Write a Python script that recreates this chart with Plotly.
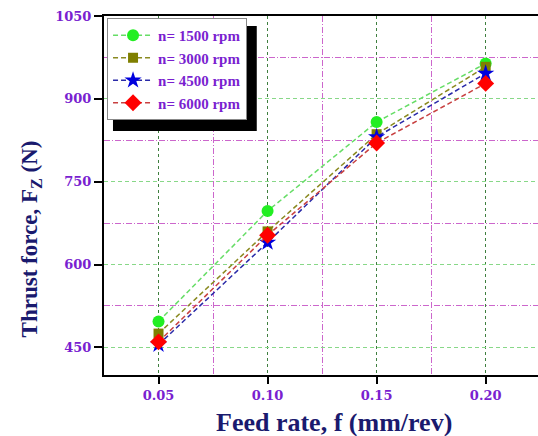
import plotly.graph_objects as go

# Feed rate (mm/rev) and measured thrust force (N) at each spindle speed
feed_rate = [0.05, 0.10, 0.15, 0.20]
force_1500 = [497, 697, 858, 964]
force_3000 = [475, 660, 836, 958]
force_4500 = [455, 640, 831, 946]
force_6000 = [460, 653, 820, 928]

series_names = ["n= 1500 rpm", "n= 3000 rpm", "n= 4500 rpm", "n= 6000 rpm"]
x_ticks = [0.05, 0.10, 0.15, 0.20]
x_tick_text = ["0.05", "0.10", "0.15", "0.20"]
y_ticks = [450, 600, 750, 900, 1050]
x_title = "Feed rate, f (mm/rev)"
y_title = "Thrust force, F<sub>Z</sub> (N)"

styles = [
    dict(line="#66dd66", marker="#22ee22", symbol="circle", size=12),
    dict(line="#8a8a20", marker="#7f7f00", symbol="square", size=10),
    dict(line="#2a2aa8", marker="#0000dd", symbol="star", size=13),
    dict(line="#c84040", marker="#ff0000", symbol="diamond", size=13),
]

fig = go.Figure()
for name, values, st in zip(series_names,
                            [force_1500, force_3000, force_4500, force_6000],
                            styles):
    fig.add_trace(go.Scatter(
        x=feed_rate, y=values, name=name, mode="lines+markers",
        line=dict(color=st["line"], width=1.5, dash="5px,3px"),
        marker=dict(color=st["marker"], symbol=st["symbol"], size=st["size"],
                    line=dict(width=0)),
    ))

tick_font = dict(family="DejaVu Serif", size=13, color="#7a1fd0", weight="bold")
title_color = "#1a1a6e"

fig.update_layout(
    width=538, height=436,
    margin=dict(l=104, r=0, t=16, b=61),
    paper_bgcolor="white", plot_bgcolor="white",
    showlegend=True,
    legend=dict(
        x=0.007, y=0.9944, xanchor="left", yanchor="top",
        bgcolor="white", bordercolor="#888888", borderwidth=1,
        font=dict(family="Liberation Serif", size=15, color="#7a1fd0", weight="bold"),
        itemwidth=40,
    ),
    xaxis=dict(
        range=[0.025, 0.224], tickvals=x_ticks, ticktext=x_tick_text,
        tickfont=tick_font, ticks="outside", ticklen=7, tickwidth=2,
        tickcolor="black",
        showline=True, linecolor="black", linewidth=2, mirror=True,
        showgrid=True, gridcolor="#3f7f3f", griddash="3px,3px", gridwidth=1,
        minor=dict(tickvals=[0.075, 0.125, 0.175], showgrid=True,
                   gridcolor="#cc66cc", griddash="6px,2px,1px,2px", gridwidth=1),
        zeroline=False,
    ),
    yaxis=dict(
        range=[400, 1050], tickvals=y_ticks,
        tickfont=tick_font, ticks="outside", ticklen=8, tickwidth=2,
        tickcolor="black",
        showline=True, linecolor="black", linewidth=2, mirror=False,
        showgrid=True, gridcolor="#88d888", griddash="4px,3px", gridwidth=1,
        minor=dict(tickvals=[525, 675, 825, 975], showgrid=True,
                   gridcolor="#cc66cc", griddash="6px,2px,1px,2px", gridwidth=1),
        zeroline=False,
    ),
)

# Axis titles
fig.add_annotation(text=x_title, xref="paper", yref="paper", x=0.53, y=-0.131,
                   xanchor="center", yanchor="middle", showarrow=False,
                   font=dict(family="Liberation Serif", size=26,
                             color=title_color, weight="bold"))
fig.add_annotation(text=y_title, xref="paper", yref="paper", x=-0.168, y=0.378,
                   xanchor="center", yanchor="middle", showarrow=False,
                   textangle=-90,
                   font=dict(family="Liberation Serif", size=23,
                             color=title_color, weight="bold"))

# Drop shadow behind the legend box
fig.add_shape(type="rect", xref="paper", yref="paper",
              x0=0.0207, x1=0.352, y0=0.680, y1=0.972,
              fillcolor="black", line=dict(width=0), layer="above")

fig.write_html("out.html")
